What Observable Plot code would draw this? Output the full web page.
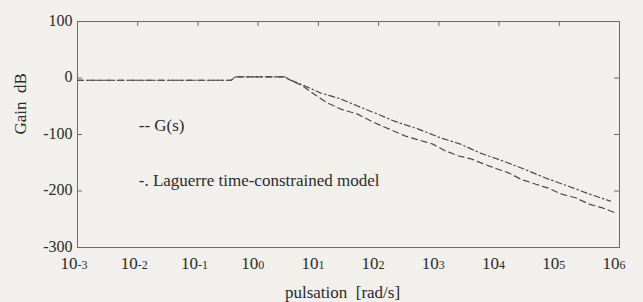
<!DOCTYPE html>
<html>
<head>
<meta charset="utf-8">
<script src="https://cdn.jsdelivr.net/npm/d3@7"></script>
<script src="https://cdn.jsdelivr.net/npm/@observablehq/plot@0.6"></script>
<style>
  html, body { margin: 0; padding: 0; background: #f1f0ec; }
  #chart svg { display: block; }
  #chart svg text { font-family: "Liberation Serif", "DejaVu Serif", serif; }
</style>
</head>
<body>
<div id="chart"></div>
<script>
// Shared low-frequency part (both curves overlap)
const lowLogW = [-3, -0.45, -0.38, 0.45, 0.50];
const lowDb   = [-4, -4, 2, 2, -2];

// Laguerre time-constrained model (upper, dash-dot)
const lagLogW = [0.70, 1.04, 1.37, 1.65, 1.98, 2.25, 2.65, 3.03, 3.36, 3.69, 4.07, 4.41, 4.77, 5.14, 5.49, 5.85];
const lagDb   = [-10.6, -26.5, -37, -49.6, -63.7, -76, -90, -106, -117, -133, -147, -161, -177, -191, -205, -218];

// G(s) (lower, dashed)
const gLogW = [0.74, 0.92, 1.15, 1.37, 1.65, 1.95, 2.45, 2.90, 3.11, 3.33, 3.53, 3.74, 3.97, 4.16, 4.36, 4.61, 4.82, 5.02, 5.27, 5.49, 5.72, 5.94];
const gDb   = [-14, -28, -44, -55, -64, -80, -103, -117, -129, -138, -143, -152, -161, -168, -179, -188, -195, -205, -212, -223, -230, -239];

const xExponents = [-3, -2, -1, 0, 1, 2, 3, 4, 5, 6];
const yTicks = [100, 0, -100, -200, -300];
const yInnerTicks = [0, -100, -200];
const legendItems = [
  {text: "-- G(s)", w: 0.01, db: -85},
  {text: "-. Laguerre time-constrained model", w: 0.01, db: -182}
];

const toPts = (lw, db) => lw.map((l, i) => ({w: Math.pow(10, l), db: db[i]}));
const low = toPts(lowLogW, lowDb);
const lag = low.concat(toPts(lagLogW, lagDb));
const gs = low.concat(toPts(gLogW, gDb));
const decades = xExponents.map(e => ({w: Math.pow(10, e), e: String(e)}));
const innerDecades = decades.slice(1, -1);

const W = 643, H = 302;
const mL = 77, mR = 24, mT = 21, mB = 55;
const pw = W - mL - mR, ph = H - mT - mB;
const ink = "#4a4a4a", frameInk = "#6a6a6a", txt = "#2b2b2b";
const serif = "Liberation Serif";

const chart = Plot.plot({
  width: W, height: H,
  marginLeft: mL, marginRight: mR, marginTop: mT, marginBottom: mB,
  style: {background: "#f1f0ec", color: txt},
  x: {type: "log", domain: [1e-3, 1e6], axis: null},
  y: {domain: [-300, 100], axis: null},
  marks: [
    Plot.frame({stroke: frameInk, strokeWidth: 1}),
    Plot.tickX(innerDecades, {x: "w", stroke: frameInk, insetBottom: ph - 5}),
    Plot.tickY(yInnerTicks, {y: d => d, stroke: frameInk, insetRight: pw - 5}),
    Plot.tickY(yInnerTicks, {y: d => d, stroke: frameInk, insetLeft: pw - 5}),
    Plot.line(gs, {x: "w", y: "db", stroke: ink, strokeWidth: 1.2, strokeDasharray: "6,4"}),
    Plot.line(lag, {x: "w", y: "db", stroke: ink, strokeWidth: 1.2, strokeDasharray: "6,3,1.5,3"}),
    Plot.text(yTicks, {y: d => d, text: d => String(d), frameAnchor: "left", textAnchor: "end", dx: -5, dy: -1, fontSize: 16, fontFamily: serif, fill: txt}),
    Plot.text(decades, {x: "w", text: () => "10", frameAnchor: "bottom", textAnchor: "end", lineAnchor: "bottom", dy: 21, fontSize: 17, fontFamily: serif, fill: txt}),
    Plot.text(decades, {x: "w", text: "e", frameAnchor: "bottom", textAnchor: "start", lineAnchor: "bottom", dy: 21, fontSize: 12, fontFamily: serif, fill: txt}),
    Plot.text(["pulsation\u00a0\u00a0[rad/s]"], {text: d => d, frameAnchor: "bottom", lineAnchor: "bottom", dy: 50, dx: -6, fontSize: 17, fontFamily: serif, fill: txt}),
    Plot.text(["Gain\u00a0\u00a0dB"], {text: d => d, frameAnchor: "left", rotate: -90, dx: -57, fontSize: 17, fontFamily: serif, fill: txt}),
    Plot.text(legendItems, {x: "w", y: "db", text: "text", textAnchor: "start", dx: 1, fontSize: 17, fontFamily: serif, fill: txt})
  ]
});
document.getElementById("chart").appendChild(chart);
</script>
</body>
</html>
